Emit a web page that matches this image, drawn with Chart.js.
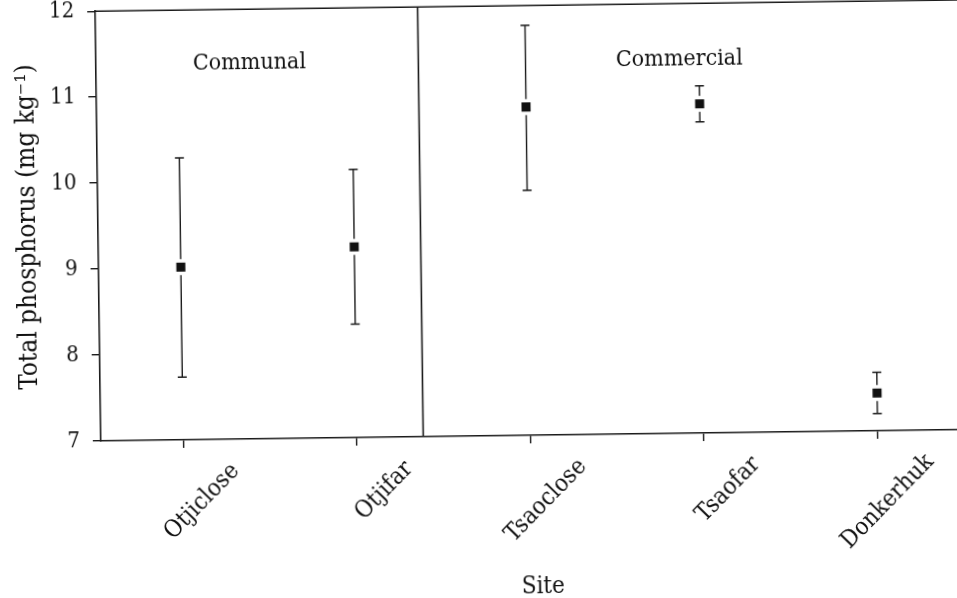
<!DOCTYPE html>
<html>
<head>
<meta charset="utf-8">
<script src="https://cdn.jsdelivr.net/npm/chart.js@4.4.1/dist/chart.umd.min.js"></script>
<style>
  html, body { margin: 0; padding: 0; background: #fff; overflow: hidden; width: 957px; height: 598px; }
  /* the scanned figure is tilted a little, so the whole canvas is turned to match */
  #wrap { position: absolute; left: 0; top: -20px; width: 1000px; height: 640px;
          transform-origin: 478.5px 319px; transform: rotate(-0.75deg); }
</style>
</head>
<body>
<div id="wrap"><canvas id="chart" width="1000" height="640"></canvas></div>
<script>
// Sites and total phosphorus (mg/kg): mean with upper / lower error bar ends
const sites = ['Otjiclose', 'Otjifar', 'Tsaoclose', 'Tsaofar', 'Donkerhuk'];
const meanP = [9.01, 9.22, 10.82, 10.83, 7.44];
const upperP = [10.28, 10.12, 11.77, 11.04, 7.68];
const lowerP = [7.73, 8.32, 9.85, 10.62, 7.20];
const groupNames = ['Communal', 'Commercial'];
const yTicks = [7, 8, 9, 10, 11, 12];

const FONT = "'DejaVu Serif Condensed', 'DejaVu Serif', serif";
const INK = '#1a1a1a';

// border between the two land-use groups (x value, between Otjifar and Tsaoclose)
const groupSplit = 1.383;

// frame, group divider and group names
const panels = {
  id: 'panels',
  beforeDatasetsDraw(chart) {
    const {ctx, chartArea: a, scales: {x, y}} = chart;
    ctx.save();
    ctx.strokeStyle = INK;
    ctx.lineWidth = 1.6;
    ctx.beginPath();
    ctx.moveTo(a.left, a.top); ctx.lineTo(a.right, a.top); ctx.lineTo(a.right, a.bottom);
    const dx = x.getPixelForValue(groupSplit);
    ctx.moveTo(dx, a.top); ctx.lineTo(dx, a.bottom);
    ctx.stroke();

    ctx.fillStyle = '#111';
    ctx.font = '23px ' + FONT;
    ctx.textAlign = 'center';
    ctx.textBaseline = 'middle';
    ctx.fillText(groupNames[0], x.getPixelForValue(0.41), y.getPixelForValue(11.37));
    ctx.fillText(groupNames[1], x.getPixelForValue(2.886), y.getPixelForValue(11.35));
    ctx.restore();
  }
};

// vertical error bars with caps, broken around the marker
const errorBars = {
  id: 'errorBars',
  afterDatasetsDraw(chart) {
    const {ctx, scales: {x, y}} = chart;
    const gap = 8, cap = 4.5;
    ctx.save();
    ctx.strokeStyle = INK;
    ctx.lineWidth = 1.4;
    ctx.beginPath();
    meanP.forEach((m, i) => {
      const px = x.getPixelForValue(i);
      const pm = y.getPixelForValue(m);
      const pu = y.getPixelForValue(upperP[i]);
      const pl = y.getPixelForValue(lowerP[i]);
      if (pm - gap > pu) { ctx.moveTo(px, pu); ctx.lineTo(px, pm - gap); }
      if (pl > pm + gap) { ctx.moveTo(px, pm + gap); ctx.lineTo(px, pl); }
      ctx.moveTo(px - cap, pu); ctx.lineTo(px + cap, pu);
      ctx.moveTo(px - cap, pl); ctx.lineTo(px + cap, pl);
    });
    ctx.stroke();
    ctx.restore();
  }
};

const ctx = document.getElementById('chart').getContext('2d');
new Chart(ctx, {
  type: 'scatter',
  data: {
    datasets: [{
      data: meanP.map((v, i) => ({x: i, y: v})),
      pointStyle: 'rect',
      pointRadius: 6.4,
      backgroundColor: '#111',
      borderWidth: 0
    }]
  },
  options: {
    responsive: false,
    animation: false,
    layout: {padding: {top: 25, left: 0, right: 20, bottom: 0}},
    plugins: {legend: {display: false}, tooltip: {enabled: false}},
    scales: {
      x: {
        type: 'linear',
        min: -0.474,
        max: 4.6,
        afterBuildTicks: s => { s.ticks = sites.map((_, i) => ({value: i})); },
        afterFit: s => { s.height = 184; },
        ticks: {
          autoSkip: false, minRotation: 45, maxRotation: 45,
          labelOffset: 52, padding: 10,
          color: '#111', font: {family: FONT, size: 24},
          callback: v => sites[v]
        },
        grid: {drawOnChartArea: false, tickLength: 8, color: INK, lineWidth: 1.4},
        border: {display: true, color: INK, width: 1.6},
        title: {display: true, text: 'Site', color: '#111', font: {family: FONT, size: 24}, padding: {top: 0, bottom: 18}}
      },
      y: {
        min: 7,
        max: 12,
        afterBuildTicks: s => { s.ticks = yTicks.map(v => ({value: v})); },
        afterFit: s => { s.width = 99; },
        ticks: {padding: 13, color: '#111', font: {family: FONT, size: 22}},
        grid: {drawOnChartArea: false, tickLength: 8, color: INK, lineWidth: 1.4},
        border: {display: true, color: INK, width: 1.6},
        title: {display: true, text: 'Total phosphorus (mg kg⁻¹)', color: '#111', font: {family: FONT, size: 26}, padding: {top: 14, bottom: 0}}
      }
    }
  },
  plugins: [panels, errorBars]
});
</script>
</body>
</html>
